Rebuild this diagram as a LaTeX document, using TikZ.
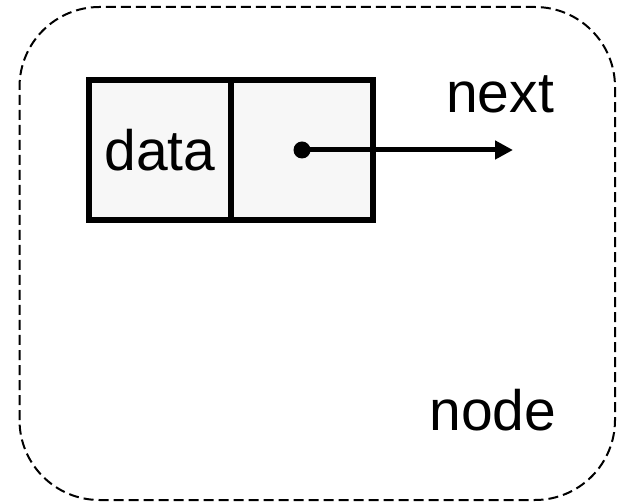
\documentclass[tikz,border=0pt]{standalone}
\usepackage{fontspec}
\setmainfont{Liberation Sans}
\usetikzlibrary{shapes,arrows.meta,positioning}
\tikzset{cell/.style={draw,fill=black!3,line width=6.5pt,outer sep=0pt,inner sep=0pt,minimum width=142pt,minimum height=140pt}}
\tikzset{frame/.style={draw,dash pattern=on 10pt off 5pt,line width=2pt,rounded corners=80pt}}
\tikzset{txt/.style={font=\fontsize{57}{68}\selectfont}}
\tikzset{pointer/.style={draw,line width=5pt,-{Triangle[length=18pt,width=18pt]}}}

\begin{document}
\begin{tikzpicture}[x=1pt,y=1pt]
    \useasboundingbox (0,0) rectangle (617,503);
    \path[frame] (19.5,3) rectangle (615,496);

    \node[cell,txt] (data) at (160,353) {data};
    \node[cell,right=0pt of data] (next) {};

    \node[txt,anchor=base] (nextlabel) at (500,390) {next};
    \node[txt,anchor=base] (nodelabel) at (493,73) {node};

    \coordinate[right=211pt of next.center] (tip);
        \fill (next.center) circle (8.5pt);
        \path[pointer] (next.center) -- (tip);
\end{tikzpicture}
\end{document}
